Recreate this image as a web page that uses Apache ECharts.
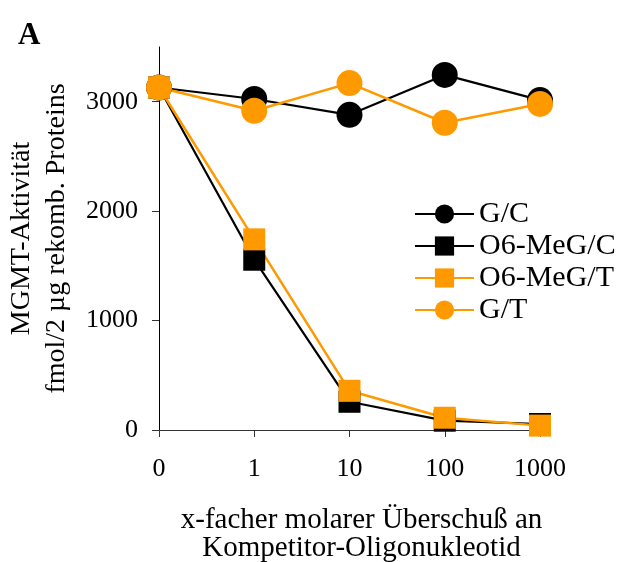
<!DOCTYPE html>
<html>
<head>
<meta charset="utf-8">
<script src="https://cdn.jsdelivr.net/npm/echarts@6/dist/echarts.min.js"></script>
<style>
  html, body { margin: 0; padding: 0; background: #fff; }
  #chart { width: 620px; height: 562px; }
</style>
</head>
<body>
<div id="chart"></div>
<script>
// Competitor excess (x-fold molar) on the category axis
const categories = ['0', '1', '10', '100', '1000'];
const yTicks = [0, 1000, 2000, 3000];

// MGMT activity (fmol / 2 µg recombinant protein)
const gc      = [3130, 3025, 2880, 3245, 3015];
const o6megC  = [3130, 1556, 258, 85, 55];
const o6megT  = [3130, 1742, 358, 112, 40];
const gt      = [3130, 2918, 3170, 2808, 2980];

const BLACK = '#000000';
const ORANGE = '#ff9900';
const FONT = '"Liberation Serif", "DejaVu Serif", serif';

function lineSeries(name, data, color, symbol, size, width) {
  return {
    name, type: 'line', data,
    symbol, symbolSize: size,
    showSymbol: true,
    lineStyle: { color, width },
    itemStyle: { color, borderWidth: 0 },
    emphasis: { disabled: true },
    animation: false
  };
}

const chart = echarts.init(document.getElementById('chart'), null, { renderer: 'canvas' });
chart.setOption({
  animation: false,
  backgroundColor: '#ffffff',
  textStyle: { fontFamily: FONT, color: '#000' },
  grid: { left: 159, right: 80, top: 47, bottom: 132, containLabel: false, outerBoundsMode: 'none' },
  title: {
    text: 'A', left: 13, top: 15,
    textStyle: { fontFamily: FONT, fontWeight: 'bold', fontSize: 31, color: '#000' }
  },
  legend: {
    left: 414, top: 199, orient: 'vertical', padding: 0,
    itemWidth: 59, itemHeight: 24, itemGap: 2,
    textStyle: { fontFamily: FONT, fontSize: 30, color: '#000' },
    data: ['G/C', 'O6-MeG/C', 'O6-MeG/T', 'G/T']
  },
  xAxis: {
    type: 'category', data: categories, boundaryGap: false,
    name: 'x-facher molarer Überschuß an\nKompetitor-Oligonukleotid',
    nameLocation: 'middle', nameGap: 76,
    nameTextStyle: { fontFamily: FONT, fontSize: 29, color: '#000', lineHeight: 28, padding: [0, 0, 0, 24] },
    axisLine: { lineStyle: { color: '#333', width: 1 } },
    axisTick: { show: true, alignWithLabel: true, length: 7, lineStyle: { color: '#333' } },
    axisLabel: { fontFamily: FONT, fontSize: 26, color: '#000', margin: 26 },
    splitLine: { show: false }
  },
  yAxis: {
    type: 'value', min: 0, max: 3500, interval: 1000,
    name: 'MGMT-Aktivität\nfmol/2 µg rekomb. Proteins',
    nameLocation: 'middle', nameRotate: 90, nameGap: 85,
    nameTextStyle: { fontFamily: FONT, fontSize: 28, color: '#000', lineHeight: 35 },
    axisLine: { show: true, lineStyle: { color: '#000', width: 1 } },
    axisTick: { show: true, length: 7, customValues: yTicks, lineStyle: { color: '#333' } },
    axisLabel: {
      fontFamily: FONT, fontSize: 26, color: '#000', margin: 21, customValues: yTicks,
      formatter: v => String(v)
    },
    splitLine: { show: false }
  },
  series: [
    lineSeries('G/C', gc, BLACK, 'circle', 26, 2.2),
    lineSeries('O6-MeG/C', o6megC, BLACK, 'rect', 22, 2.2),
    lineSeries('O6-MeG/T', o6megT, ORANGE, 'rect', 22, 2.5),
    lineSeries('G/T', gt, ORANGE, 'circle', 26, 2.5)
  ]
});
</script>
</body>
</html>
